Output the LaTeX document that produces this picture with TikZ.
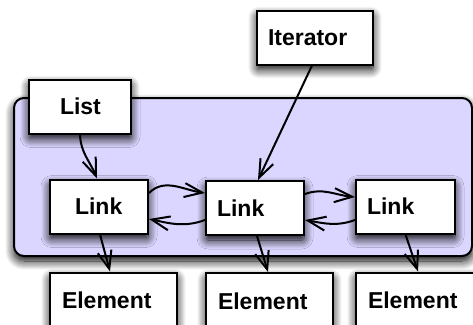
\documentclass[tikz,border=0pt]{standalone}
\usepackage{fontspec}
\setmainfont{Liberation Sans}
\usetikzlibrary{arrows.meta,shadows.blur}

\definecolor{groupfill}{RGB}{219,214,255}

\tikzset{
  softshadow/.style={blur shadow={shadow xshift=0pt, shadow yshift=-5pt,
      shadow blur radius=9pt, shadow blur extra rounding=2pt,
      shadow blur steps=12, shadow opacity=100}},
  nbox/.style={draw, fill=white, line width=2pt, softshadow,
      font=\fontsize{23}{27}\selectfont\bfseries, align=left,
      inner ysep=0pt, minimum height=54pt},
  group/.style={draw, fill=groupfill, line width=2pt, rounded corners=10pt,
      softshadow, minimum width=458pt, minimum height=158pt},
  link/.style={line width=2pt, -{Straight Barb[length=18pt,width=14pt,line width=2pt]}}
}

\begin{document}
\begin{tikzpicture}[x=1pt,y=1pt]
  \useasboundingbox (0,0) rectangle (473,-324);
  \clip (0,0) rectangle (473,-324);

  % container for the chain of links
  \node[group] (chain) at (243,-177) {};

  % owners of the chain
  \node[nbox, text width=40pt, inner xsep=31pt] (list) at (80,-106.5) {List};
  \node[nbox, text width=94pt, inner xsep=11pt] (iter) at (315,-37.5) {Iterator};

  % the links
  \node[nbox, text width=48pt, inner xsep=25pt] (link1) at (99,-206.5) {Link};
  \node[nbox, text width=76pt, inner xsep=11pt] (link2) at (255,-208) {Link};
  \node[nbox, text width=77pt, inner xsep=11pt] (link3) at (405.5,-206.5) {Link};

  % the elements held by the links
  \node[nbox, minimum height=56pt, text width=103pt, inner xsep=12pt] (elem1) at (113.5,-300.5) {Element};
  \node[nbox, minimum height=56pt, text width=103pt, inner xsep=12pt] (elem2) at (269.5,-301) {Element};
  \node[nbox, minimum height=56pt, text width=103pt, inner xsep=12pt] (elem3) at (419.5,-300.5) {Element};

  % connectors
  \draw[link] (list.south) to[out=-88, in=112] ([xshift=-2pt]link1.north);
  \draw[link] ([xshift=-3pt]iter.south) -- ([xshift=3pt]link2.north);

  \draw[link] ([yshift=13.5pt]link1.east) to[out=45, in=172] ([yshift=15pt]link2.west);
  \draw[link] ([yshift=-12pt]link2.west) to[out=200, in=-12] ([yshift=-12.5pt]link1.east);
  \draw[link] ([yshift=14pt]link2.east) to[out=20, in=175] ([yshift=9.5pt]link3.west);
  \draw[link] ([yshift=-13.5pt]link3.west) to[out=200, in=-10] ([yshift=-12pt]link2.east);

  \draw[link] ([xshift=1pt]link1.south) -- ([xshift=-3.5pt]elem1.north);
  \draw[link] ([xshift=2pt]link2.south) -- ([xshift=-1.5pt]elem2.north);
  \draw[link] (link3.south) -- ([xshift=-1.5pt]elem3.north);
\end{tikzpicture}
\end{document}
